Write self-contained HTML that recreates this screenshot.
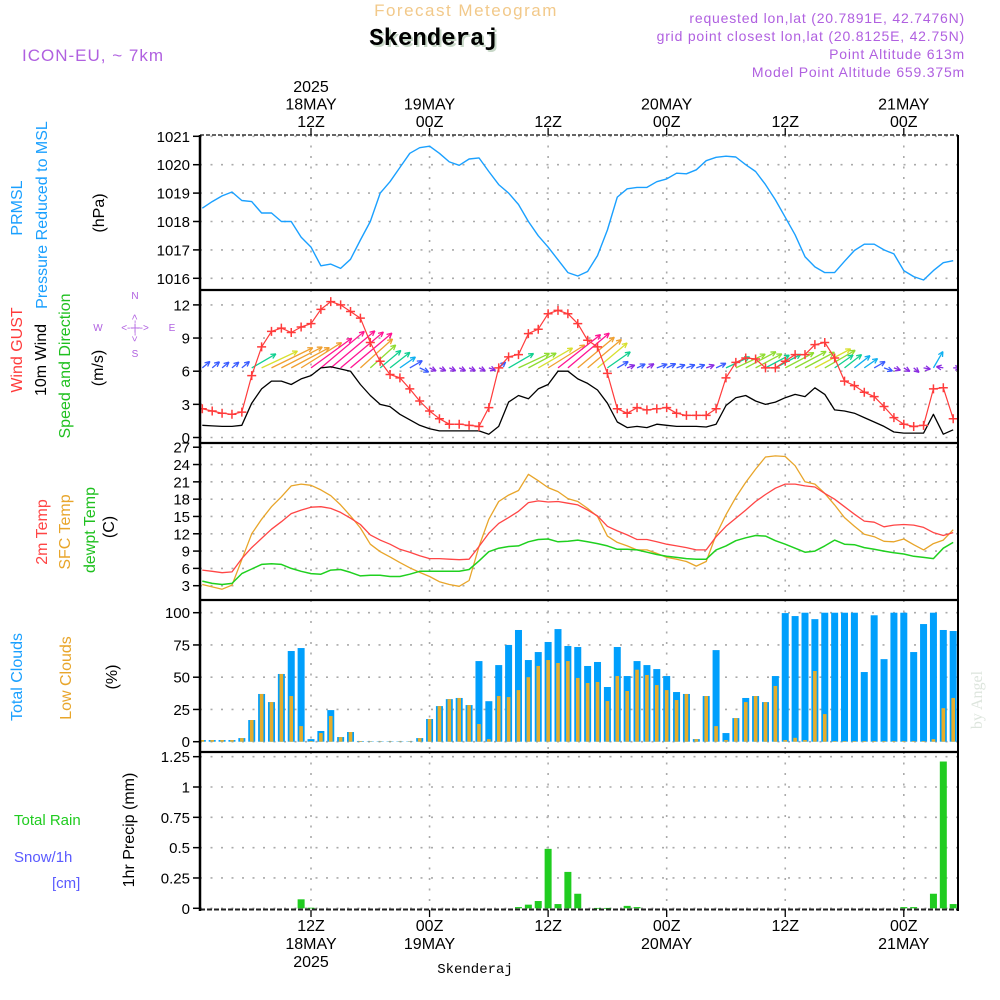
<!DOCTYPE html>
<html><head><meta charset="utf-8">
<style>
html,body{margin:0;padding:0;background:#fff;}
svg{display:block;font-family:"Liberation Sans","DejaVu Sans",sans-serif;}
</style></head>
<body>
<svg id="chart" width="1000" height="1000" viewBox="0 0 1000 1000" xmlns="http://www.w3.org/2000/svg">
<rect x="0" y="0" width="1000" height="1000" fill="#fff"/>
<text x="466" y="16" text-anchor="middle" font-size="17" fill="#f2c98a" letter-spacing="1.5">Forecast Meteogram</text>
<text x="436" y="47" text-anchor="middle" font-size="24" font-weight="bold" font-family="Liberation Mono, monospace" fill="#c8d8c8">Skenderaj</text>
<text x="434" y="45" text-anchor="middle" font-size="24" font-weight="bold" font-family="Liberation Mono, monospace" fill="#000">Skenderaj</text>
<text x="22" y="61" font-size="17" fill="#b060e0" letter-spacing="1">ICON-EU, ~ 7km</text>
<g font-size="14" fill="#b060e0" text-anchor="end" letter-spacing="0.8">
<text x="965" y="23">requested lon,lat (20.7891E, 42.7476N)</text>
<text x="965" y="41">grid point closest lon,lat (20.8125E, 42.75N)</text>
<text x="965" y="59">Point Altitude 613m</text>
<text x="965" y="77">Model Point Altitude 659.375m</text>
</g>
<text transform="translate(982,700) rotate(-90)" text-anchor="middle" font-size="16" font-family="Liberation Serif, serif" fill="#dde5dd">by Angel</text>
<g id="grid"></g>
<g id="marks"></g>
<g id="frame"></g>
<g id="labels"></g>
</svg>
<script>
// ---------- DATA ----------
const hours = [];
for (let h = 1; h <= 77; h++) hours.push(h); // hours after 18MAY 00Z
const pressure = [1018.47,1018.7,1018.9,1019.04,1018.74,1018.7,1018.3,1018.3,1018.0,1018.0,1017.45,1017.1,1016.44,1016.5,1016.35,1016.67,1017.35,1018.0,1019.0,1019.4,1019.9,1020.4,1020.6,1020.65,1020.4,1020.1,1019.98,1020.2,1020.24,1019.76,1019.3,1019.0,1018.6,1018.0,1017.5,1017.1,1016.65,1016.2,1016.08,1016.24,1016.8,1017.7,1018.86,1019.15,1019.2,1019.2,1019.4,1019.5,1019.7,1019.68,1019.82,1020.14,1020.26,1020.3,1020.27,1020.0,1019.76,1019.3,1018.76,1018.15,1017.53,1016.76,1016.4,1016.2,1016.2,1016.6,1016.98,1017.2,1017.2,1017.0,1016.86,1016.27,1016.06,1015.94,1016.27,1016.55,1016.62];
const gust = [2.6,2.4,2.2,2.1,2.3,5.6,8.2,9.6,9.9,9.5,10.0,10.3,11.6,12.3,12.0,11.4,10.8,8.6,6.9,5.7,5.4,4.4,3.3,2.4,1.7,1.2,1.2,1.1,1.0,2.7,6.3,7.3,7.5,9.4,9.8,11.2,11.5,11.2,10.3,8.8,8.2,5.8,2.6,2.2,2.7,2.5,2.6,2.7,2.2,2.0,2.0,2.0,2.6,5.4,6.8,7.2,7.1,6.3,6.3,6.9,7.5,7.5,8.4,8.6,7.2,5.1,4.7,4.1,3.7,2.8,1.8,1.2,1.0,1.1,4.4,4.5,1.7];
const wind = [1.1,1.05,1.0,1.0,1.1,3.1,4.4,5.1,5.1,4.8,5.3,5.6,6.3,6.4,6.2,6.0,4.8,3.8,3.0,2.8,2.1,1.6,1.1,0.8,0.6,0.6,0.6,0.6,0.6,0.3,1.0,3.2,3.8,3.5,4.4,4.8,6.0,6.0,5.3,4.9,4.3,3.1,1.4,0.9,1.0,0.9,1.2,1.1,1.0,1.0,1.0,0.95,1.2,2.9,3.6,3.8,3.3,3.0,3.2,3.6,3.9,3.7,4.5,3.9,2.5,2.4,2.2,1.8,1.4,1.0,0.5,0.4,0.4,0.4,2.1,0.3,0.7];
const windDir = [40,40,40,40,40,30,25,26,27,28,32,36,40,40,40,40,42,42,40,38,35,30,-25,-25,-25,-25,-25,-25,-25,-20,40,30,25,28,30,32,38,40,40,40,40,35,30,20,25,30,20,25,20,20,20,20,25,25,25,28,28,28,28,28,28,28,28,30,35,38,38,35,30,-20,-20,-30,-40,-10,60,170,0];
const temp2m = [5.7,5.5,5.25,5.4,7.7,9.6,11.2,12.8,14.1,15.5,16.1,16.6,16.7,16.4,15.7,14.7,13.6,11.8,10.9,10.2,9.3,8.8,8.2,7.7,7.7,7.6,7.5,7.6,9.8,12.1,13.8,14.8,15.9,17.4,17.7,17.5,17.6,17.3,17.0,16.1,15.1,13.3,12.5,11.8,11.0,11.0,10.6,10.2,9.9,9.6,9.2,9.2,11.5,13.3,14.7,16.1,17.6,18.8,19.9,20.6,20.6,20.3,20.1,19.0,18.0,16.7,15.4,14.2,14.0,13.2,13.5,13.6,13.5,13.1,12.2,11.7,12.2];
const tempSfc = [3.2,2.8,2.4,3.1,7.5,12.0,14.5,16.7,18.4,20.3,20.6,20.4,19.6,18.6,17.0,15.1,13.0,10.2,8.9,8.0,7.0,6.1,5.3,4.6,3.7,3.2,2.9,3.9,9.8,14.5,17.6,18.7,19.5,22.3,21.2,20.0,19.3,18.1,17.6,16.4,15.0,11.6,10.5,9.9,9.2,9.2,8.6,7.9,7.6,7.2,6.4,7.2,11.8,15.3,18.3,20.9,23.2,25.3,25.5,25.4,23.8,21.0,20.6,19.0,17.0,14.8,13.3,11.9,11.5,10.7,10.6,11.1,10.1,9.2,10.3,10.9,12.7];
const dewpt = [3.8,3.4,3.2,3.4,5.1,5.9,6.7,6.8,6.7,6.0,5.5,5.1,5.0,5.7,5.8,5.3,4.7,4.8,4.8,4.6,4.6,5.0,5.5,5.5,5.5,5.5,5.5,5.8,7.3,8.9,9.5,9.8,9.9,10.6,11.0,11.1,10.6,10.7,10.9,10.6,10.3,9.9,9.3,9.3,9.2,8.8,8.4,8.1,7.9,7.7,7.6,7.6,9.2,9.9,10.8,11.3,11.7,11.6,10.8,10.2,9.5,8.8,9.0,9.9,10.9,10.2,10.1,9.6,9.3,9.0,8.7,8.5,8.1,7.9,7.7,9.5,10.5];
const totalClouds = [1.3,1.3,1.3,1.3,2.8,16.8,37,30.7,52.5,70.3,72.6,2,8.3,24.5,3.6,7.5,0.5,0.3,0.3,0.3,0.3,0.3,2.8,17.6,27.6,33,33.9,28.4,62.5,31.4,59.4,75,86.6,63.3,69.5,77.3,87.3,74.2,73.4,58.7,61.8,42.4,73.4,50.9,62.5,59.4,56.3,50.9,38.5,37,2,35.4,71,6.7,18.3,33.9,35.4,30.7,50.9,99.7,97.4,100,95,100,100,100,100,54,98,64,100,100,69.5,91.2,100,86.6,85.8];
const lowClouds = [1.3,1.3,1.3,1.3,2.8,16.8,37,30.7,52.5,35.4,12.1,0.5,6.7,19.9,3.6,7.5,0.5,0.3,0.3,0.3,0.3,0.3,2.8,17.6,27.6,33,33.9,28.4,13.7,2,35.4,34.6,40,50,58.7,63.3,61,62.5,49.4,45.5,46.3,31.5,50.9,39.3,55.8,51.7,43.9,40,32.3,37,2,35.4,12.1,1.3,18.3,30.7,35.4,30.7,43.2,1.3,3,1.3,54.8,21.4,0.5,0.5,0.5,0.5,0.5,0.5,0.5,0.5,0.5,0.5,2,26,33.9];
const precip = [0,0,0,0,0,0,0,0,0,0,0.074,0.005,0,0,0,0,0,0,0,0,0,0,0,0,0,0,0,0,0,0,0,0,0.01,0.03,0.06,0.49,0.035,0.30,0.12,0,0.003,0.003,0,0.02,0.01,0,0,0,0,0,0,0,0,0,0,0,0,0,0,0,0,0,0,0,0,0,0,0,0,0,0,0.01,0.01,0,0.12,1.21,0.035];
const pressureTicks = [1016,1017,1018,1019,1020,1021];
const windTicks = [0,3,6,9,12];
const tempTicks = [3,6,9,12,15,18,21,24,27];
const cloudTicks = [0,25,50,75,100];
const precipTicks = [0,0.25,0.5,0.75,1,1.25];
const precipTickLabels = ["0","0.25","0.5","0.75","1","1.25"];
const gridHours = [12,24,36,48,60,72];
const topTimeLabels = [["2025","18MAY","12Z"],["19MAY","00Z"],["12Z"],["20MAY","00Z"],["12Z"],["21MAY","00Z"]];
const bottomTimeLabels = [["12Z","18MAY","2025"],["00Z","19MAY"],["12Z"],["00Z","20MAY"],["12Z"],["00Z","21MAY"]];

// ---------- SCALES ----------
const X0 = 200, X1 = 958;
const xs = t => 311 + (t - 12) * 9.88;
const yP = v => 278.3 - (v - 1016) * 28.4;
const yW = v => 437.5 - v * 11.05;
const yT = v => 585.7 - (v - 3) * 5.77;
const yC = v => 741.7 - v * 1.29;
const yR = v => 908.3 - v * 121.3;
const panels = [
  {top:135, bot:290, ys:yP, ticks:pressureTicks, labels:pressureTicks.map(String), name:'pressure'},
  {top:290, bot:443, ys:yW, ticks:windTicks, labels:windTicks.map(String), name:'wind'},
  {top:443, bot:600, ys:yT, ticks:tempTicks, labels:tempTicks.map(String), name:'temp'},
  {top:600, bot:752, ys:yC, ticks:cloudTicks, labels:cloudTicks.map(String), name:'clouds'},
  {top:752, bot:910, ys:yR, ticks:precipTicks, labels:precipTickLabels, name:'precip'}
];
const NS = 'http://www.w3.org/2000/svg';
function mk(tag, attrs, parent) {
  const e = document.createElementNS(NS, tag);
  for (const k in attrs) e.setAttribute(k, attrs[k]);
  parent.appendChild(e);
  return e;
}
const grid = document.getElementById('grid');
const marks = document.getElementById('marks');
const frame = document.getElementById('frame');
const labels = document.getElementById('labels');

const defs = mk('defs', {}, document.getElementById('chart'));
const cp = mk('clipPath', {id:'plotclip'}, defs);
mk('rect', {x:X0, y:130, width:X1 - X0, height:785}, cp);
marks.setAttribute('clip-path', 'url(#plotclip)');

// ---------- GRID + TICKS ----------
panels.forEach(p => {
  p.ticks.forEach((v, i) => {
    const y = p.ys(v);
    const g = mk('line', {x1:X0, x2:X1, y1:y, y2:y, stroke:'#aaa', 'stroke-width':1.6, 'stroke-dasharray':'2,8.5'}, grid);
    
    
    const tk = mk('line', {x1:X0 - 7, x2:X0, y1:y, y2:y, stroke:'#000', 'stroke-width':1.5}, frame);
    
    
    const tl = mk('text', {x:X0 - 10, y:y + 5.5, 'text-anchor':'end', 'font-size':15, fill:'#000'}, labels);
    tl.textContent = p.labels[i];
    
    
  });
  gridHours.forEach(h => {
    const x = xs(h);
    const g = mk('line', {x1:x, x2:x, y1:p.top, y2:p.bot, stroke:'#aaa', 'stroke-width':1.6, 'stroke-dasharray':'2,8.5'}, grid);
    
    
  });
});

function polyline(arr, ys, color, w, name) {
  const pts = arr.map((v, i) => xs(hours[i]).toFixed(1) + ',' + ys(v).toFixed(1)).join(' ');
  const pl = mk('polyline', {points:pts, fill:'none', stroke:color, 'stroke-width':w, 'stroke-linejoin':'round'}, marks);
  
  
}
polyline(pressure, yP, '#1aa0ff', 1.4, 'pressure-line');

// ---------- WIND ----------
function windColor(s) {
  if (s < 1.0) return '#8a2be2';
  if (s < 1.8) return '#3a5cff';
  if (s < 2.4) return '#10b0f0';
  if (s < 3.3) return '#10d090';
  if (s < 4.0) return '#8fdc30';
  if (s < 4.7) return '#d8e030';
  if (s < 5.5) return '#f0a030';
  return '#ff1493';
}
wind.forEach((s, i) => {
  const x = xs(hours[i]), y = yW(6.3);
  const L = Math.max(7, s * 9);
  const a = windDir[i] * Math.PI / 180;
  const x2 = x + L * Math.cos(a), y2 = y - L * Math.sin(a);
  const c = windColor(s);
  const g = mk('g', {stroke:c, 'stroke-width':1.3, fill:'none'}, marks);
  
  
  mk('line', {x1:x, y1:y, x2:x2, y2:y2}, g);
  const h = 5.5;
  [a + Math.PI - 0.45, a + Math.PI + 0.45].forEach(b => {
    mk('line', {x1:x2, y1:y2, x2:x2 + h * Math.cos(b), y2:y2 - h * Math.sin(b)}, g);
  });
});
polyline(wind, yW, '#000', 1.3, 'wind-speed-line');
polyline(gust, yW, '#ff3b3b', 1.2, 'wind-gust-line');
gust.forEach((v, i) => {
  const x = xs(hours[i]), y = yW(v);
  const g = mk('path', {d:`M${x-4.5},${y}H${x+4.5}M${x},${y-4.5}V${y+4.5}`, stroke:'#ff3b3b', 'stroke-width':1.5}, marks);
  
  
});

// ---------- TEMPERATURE ----------
polyline(tempSfc, yT, '#e8a52a', 1.3, 'sfc-temp-line');
polyline(temp2m, yT, '#ff4545', 1.3, '2m-temp-line');
polyline(dewpt, yT, '#1fd01f', 1.5, 'dewpoint-line');

// ---------- CLOUDS ----------
totalClouds.forEach((v, i) => {
  const x = xs(hours[i]);
  const b = mk('rect', {x:x - 3.5, y:yC(v), width:7, height:yC(0) - yC(v), fill:'#009ffc'}, marks);
  
  
  const lv = lowClouds[i];
  const o = mk('rect', {x:x - 1.8, y:yC(lv), width:3.6, height:yC(0) - yC(lv), fill:'#e5ad2c'}, marks);
  
  
});

// ---------- PRECIP ----------
precip.forEach((v, i) => {
  if (v <= 0) return;
  const x = xs(hours[i]);
  const b = mk('rect', {x:x - 3.5, y:yR(v), width:7, height:Math.max(0.8, yR(0) - yR(v)), fill:'#20cc20'}, marks);
  
  
});

// ---------- FRAME ----------
const topBorder = mk('line', {x1:X0, x2:X1, y1:135, y2:135, stroke:'#333', 'stroke-width':1.5, 'stroke-dasharray':'4,2'}, frame);


[290, 443, 600, 752].forEach(y => {
  const l = mk('line', {x1:X0, x2:X1 + 1, y1:y, y2:y, stroke:'#000', 'stroke-width':2.2}, frame);
  
  
});
const bottomBorder = mk('line', {x1:X0, x2:X1, y1:909.5, y2:909.5, stroke:'#222', 'stroke-width':2, 'stroke-dasharray':'5,2'}, frame);


const leftAxis = mk('line', {x1:X0, x2:X0, y1:135, y2:911, stroke:'#000', 'stroke-width':2.5}, frame);


const rightAxis = mk('line', {x1:X1, x2:X1, y1:135, y2:911, stroke:'#000', 'stroke-width':2}, frame);



// ---------- TIME LABELS ----------
gridHours.forEach((h, i) => {
  const x = xs(h);
  const tt = mk('line', {x1:x, x2:x, y1:128, y2:135, stroke:'#000', 'stroke-width':1.3}, frame);
  
  
  const bt = mk('line', {x1:x, x2:x, y1:910, y2:917, stroke:'#000', 'stroke-width':1.3}, frame);
  
  
  const top = topTimeLabels[i];
  top.forEach((s, j) => {
    const y = 127 - (top.length - 1 - j) * 17.5;
    const t = mk('text', {x:x, y:y, 'text-anchor':'middle', 'font-size':16, fill:'#000'}, labels);
    t.textContent = s;
    
    
  });
  bottomTimeLabels[i].forEach((s, j) => {
    const t = mk('text', {x:x, y:931 + j * 18, 'text-anchor':'middle', 'font-size':16, fill:'#000'}, labels);
    t.textContent = s;
    
    
  });
});
</script>
<script>
(function(){
  const svg = document.getElementById('chart');
  const NS = 'http://www.w3.org/2000/svg';
  function vt(txt, x, y, color, size, name) {
    const t = document.createElementNS(NS, 'text');
    t.setAttribute('transform', `translate(${x},${y}) rotate(-90)`);
    t.setAttribute('text-anchor', 'middle');
    t.setAttribute('font-size', size);
    t.setAttribute('fill', color);
    t.textContent = txt;
    
    
    svg.appendChild(t);
  }
  function ht(txt, x, y, color, size, name, anchor) {
    const t = document.createElementNS(NS, 'text');
    t.setAttribute('x', x); t.setAttribute('y', y);
    t.setAttribute('font-size', size); t.setAttribute('fill', color);
    if (anchor) t.setAttribute('text-anchor', anchor);
    t.textContent = txt;
    
    
    svg.appendChild(t);
    return t;
  }
  vt('PRMSL', 22, 208, '#1aa0ff', 16, 'prmsl-title');
  vt('Pressure Reduced to MSL', 47, 215, '#1aa0ff', 16, 'pressure-title');
  vt('(hPa)', 104, 213, '#000', 16, 'pressure-unit');
  vt('Wind GUST', 22, 350, '#ff3b3b', 16, 'gust-title');
  vt('10m Wind', 46, 360, '#000', 16, 'wind-title');
  vt('Speed and Direction', 70, 366, '#1fc01f', 16, 'wind-dir-title');
  vt('(m/s)', 103, 368, '#000', 16, 'wind-unit');
  vt('2m Temp', 47, 532, '#ff4545', 16, 'temp2m-title');
  vt('SFC Temp', 70, 532, '#e8a52a', 16, 'sfc-temp-title');
  vt('dewpt Temp', 95, 530, '#1fc01f', 16, 'dewpt-title');
  vt('(C)', 114, 527, '#000', 16, 'temp-unit');
  vt('Total Clouds', 22, 677, '#1aa0ff', 16, 'total-clouds-title');
  vt('Low Clouds', 71, 678, '#e8a52a', 16, 'low-clouds-title');
  vt('(%)', 117, 677, '#000', 16, 'cloud-unit');
  vt('1hr Precip (mm)', 134, 830, '#000', 16, '1hr-precip-title');
  ht('Total   Rain', 14, 825, '#20cc20', 15, 'rain-legend');
  ht('Snow/1h', 14, 862, '#5a5aff', 15, 'snow-legend');
  ht('[cm]', 52, 888, '#5a5aff', 15, 'snow-unit');
  const bl = ht('Skenderaj', 475, 973, '#000', 14, 'bottom-location', 'middle');
  bl.setAttribute('font-family', 'Liberation Mono, monospace');
  const comp = [['N',135,299],['W',98,331],['E',172,331],['S',135,357]];
  comp.forEach(c => ht(c[0], c[1], c[2], '#b060e0', 10, 'compass-label', 'middle'));
  ht('<--|-->', 135, 331, '#b060e0', 10, 'compass-horizontal', 'middle');
  vt('<--|-->', 138, 328, '#b060e0', 10, 'compass-vertical');
})();
</script>
</body></html>
